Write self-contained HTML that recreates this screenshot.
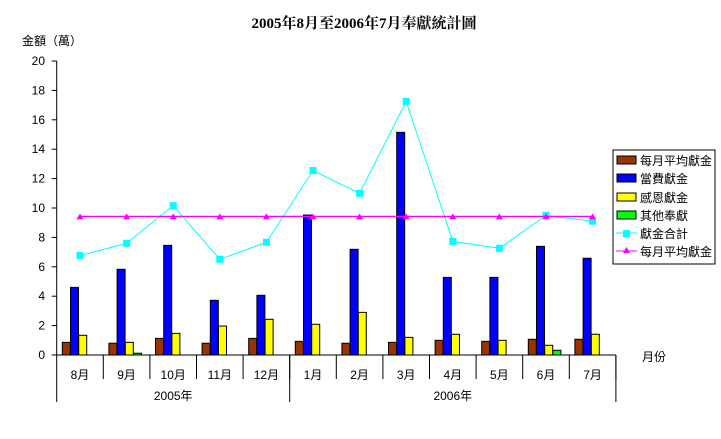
<!DOCTYPE html>
<html><head><meta charset="utf-8"><style>
body{margin:0;background:#fff;}
svg{display:block;font-family:"Liberation Sans","Noto Sans CJK TC",sans-serif;}
</style></head><body>
<svg id="chart" width="721" height="439">
<text x="364" y="28" text-anchor="middle" font-family="Liberation Serif,'Noto Serif CJK SC',serif" font-size="15" font-weight="bold">2005年8月至2006年7月奉獻統計圖</text>
<text x="22" y="45" font-size="12">金額（萬）</text>
<text x="642" y="361" font-size="12">月份</text>
<g id="axes"></g><g id="bars"></g><g id="lines"></g>
<g>
<rect x="613" y="150" width="102" height="114" fill="#fff" stroke="#000"/>
<g font-size="12">
<rect x="617" y="156" width="19" height="8" fill="#993300" stroke="#000"/><text x="640" y="165">每月平均獻金</text>
<rect x="617" y="174" width="19" height="8" fill="#0000ff" stroke="#000"/><text x="640" y="183">當費獻金</text>
<rect x="617" y="193" width="19" height="8" fill="#ffff00" stroke="#000"/><text x="640" y="202">感恩獻金</text>
<rect x="617" y="211" width="19" height="8" fill="#00ff00" stroke="#000"/><text x="640" y="220">其他奉獻</text>
<line x1="616" y1="233" x2="637" y2="233" stroke="#00ffff"/><rect x="623" y="230" width="7" height="7" fill="#00ffff"/><text x="640" y="238">獻金合計</text>
<line x1="616" y1="251" x2="637" y2="251" stroke="#ff00ff"/><polygon points="626.5,247 630,253 623,253" fill="#ff00ff"/><text x="640" y="256">每月平均獻金</text>
</g></g>
</svg>
<script>
const categories=["8月","9月","10月","11月","12月","1月","2月","3月","4月","5月","6月","7月"];
const avgMonthly=[0.86,0.8,1.13,0.8,1.13,0.93,0.8,0.86,1.0,0.93,1.07,1.07];
const regular=[4.6,5.83,7.46,3.72,4.06,9.52,7.19,15.15,5.28,5.28,7.39,6.58];
const thanks=[1.34,0.86,1.47,1.97,2.43,2.09,2.9,1.2,1.41,1.0,0.66,1.41];
const other=[0,0.12,0,0,0,0,0,0,0,0,0.32,0];
const total=[6.76,7.6,10.16,6.51,7.67,12.55,11.0,17.25,7.73,7.26,9.5,9.1];
const avgLine=[9.43,9.43,9.43,9.43,9.43,9.43,9.43,9.43,9.43,9.43,9.43,9.43];
const yTicks=[0,2,4,6,8,10,12,14,16,18,20];
const years=["2005年","2006年"];
const yearSpans=[5,7];
const NS="http://www.w3.org/2000/svg";
const X0=56.7,CW=46.6,Y0=355,YT=61,YMAX=20;
const y=v=>Y0-(v/YMAX)*(Y0-YT);
const xc=i=>X0+CW*i+CW/2;
function mk(p,t,a){const e=document.createElementNS(NS,t);for(const k in a)e.setAttribute(k,a[k]);p.appendChild(e);return e;}
const ax=document.getElementById('axes'),bg=document.getElementById('bars'),lg=document.getElementById('lines');
let e=mk(ax,'line',{x1:X0,y1:YT,x2:X0,y2:402,stroke:'#000'});


e=mk(ax,'line',{x1:X0,y1:Y0,x2:X0+CW*12,y2:Y0,stroke:'#000'});


yTicks.forEach(t=>{
 mk(ax,'line',{x1:X0-5,y1:y(t),x2:X0,y2:y(t),stroke:'#000'});
 e=mk(ax,'text',{x:45,y:y(t)+4,'text-anchor':'end','font-size':12});
 e.textContent=t;
 
 
});
categories.forEach((c,i)=>{
 const x=X0+CW*(i+1);
 mk(ax,'line',{x1:x,y1:Y0,x2:x,y2:379,stroke:'#000'});
 e=mk(ax,'text',{x:xc(i),y:379,'text-anchor':'middle','font-size':12});
 e.textContent=c;
 
 
});
let acc=0;
years.forEach((yr,j)=>{
 const s=acc;acc+=yearSpans[j];
 mk(ax,'line',{x1:X0+CW*acc,y1:Y0,x2:X0+CW*acc,y2:402,stroke:'#000'});
 e=mk(ax,'text',{x:X0+CW*(s+acc)/2,y:400,'text-anchor':'middle','font-size':12});
 e.textContent=yr;
 
 
});
const series=[[avgMonthly,'#993300','bar-avg-monthly'],[regular,'#0000ff','bar-regular'],[thanks,'#ffff00','bar-thanks'],[other,'#00ff00','bar-other']];
series.forEach(([d,col,nm],k)=>{
 d.forEach((v,i)=>{
  if(v<=0)return;
  const x=X0+CW*i+5.6+k*8.2;
  const r=mk(bg,'rect',{x:x,y:y(v),width:8,height:Y0-y(v),fill:col,stroke:'#000','stroke-width':1});
  
  
 });
});
let p=mk(lg,'polyline',{points:total.map((v,i)=>xc(i)+','+y(v)).join(' '),fill:'none',stroke:'#00ffff'});


total.forEach((v,i)=>{
 const r=mk(lg,'rect',{x:xc(i)-3.5,y:y(v)-3.5,width:7,height:7,fill:'#00ffff'});
 
 
});
p=mk(lg,'polyline',{points:avgLine.map((v,i)=>xc(i)+','+y(v)).join(' '),fill:'none',stroke:'#ff00ff','stroke-width':1.3});


avgLine.forEach((v,i)=>{
 const t=mk(lg,'polygon',{points:`${xc(i)},${y(v)-3} ${xc(i)+3.5},${y(v)+3} ${xc(i)-3.5},${y(v)+3}`,fill:'#ff00ff'});
 
 
});
</script>
</body></html>
